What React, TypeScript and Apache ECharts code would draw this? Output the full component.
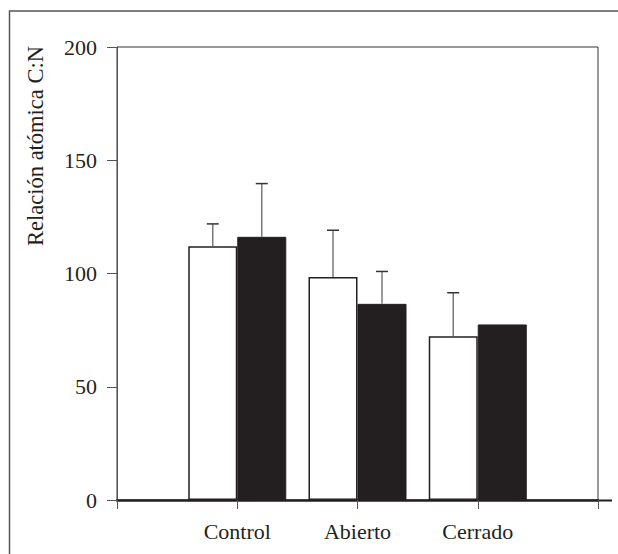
import React, { useEffect, useRef } from "react";
import * as echarts from "echarts";

const categories = ["", "Control", "Abierto", "Cerrado", ""];
const whiteValues = [null, 112, 98.4, 72.3, null];
const blackValues = [null, 116.2, 86.6, 77.5, null];
const whiteErrors = [null, 9.9, 20.7, 19.2, null];
const blackErrors = [null, 23.5, 14.3, null, null];
const yTicks = { min: 0, max: 200, interval: 50 };
const yTitle = "Relación atómica C:N";

const BAR_W = 49;
const FONT = "Liberation Serif, Times New Roman, serif";
const INK = "#231f20";

function errorData(vals: (number | null)[], errs: (number | null)[], side: number) {
  const out: any[] = [];
  vals.forEach((v, i) => {
    const e = errs[i];
    if (v != null && e != null && e > 0) out.push([i, v, e, side]);
  });
  return out;
}

export default function App() {
  const ref = useRef<HTMLDivElement>(null);
  useEffect(() => {
    if (!ref.current) return;
    const chart = echarts.init(ref.current, null, { renderer: "svg" });
    const renderErr = (params: any, api: any) => {
      const x = api.value(0);
      const v = api.value(1);
      const e = api.value(2);
      const side = api.value(3);
      const base = api.coord([x, v]);
      const top = api.coord([x, v + e]);
      const cx = base[0] + side * (BAR_W / 2);
      return {
        type: "group",
        children: [
          {
            type: "line",
            shape: { x1: cx, y1: base[1], x2: cx, y2: top[1] },
            style: { stroke: "#7a7a7a", lineWidth: 1.5 },
          },
          {
            type: "line",
            shape: { x1: cx - 6, y1: top[1], x2: cx + 6, y2: top[1] },
            style: { stroke: "#333", lineWidth: 1.5 },
          },
        ],
      };
    };
    chart.setOption({
      animation: false,
      backgroundColor: "#fff",
      textStyle: { fontFamily: FONT },
      grid: {
        left: 117,
        right: 20,
        top: 47,
        bottom: 54,
        show: true,
        borderColor: "#333",
        borderWidth: 1,
      },
      xAxis: {
        type: "category",
        data: categories,
        boundaryGap: false,
        axisLine: { show: true, lineStyle: { color: INK, width: 2.5 } },
        axisTick: { show: true, length: 9, lineStyle: { color: "#555", width: 1 } },
        axisLabel: { color: INK, fontFamily: FONT, fontSize: 22, margin: 20 },
        splitLine: { show: false },
      },
      yAxis: {
        type: "value",
        min: yTicks.min,
        max: yTicks.max,
        interval: yTicks.interval,
        axisLine: { show: true, lineStyle: { color: "#555", width: 1 } },
        axisTick: { show: true, length: 10, lineStyle: { color: "#555", width: 1 } },
        axisLabel: { color: INK, fontFamily: FONT, fontSize: 22, margin: 20 },
        splitLine: { show: false },
      },
      series: [
        {
          type: "bar",
          data: whiteValues.map((v) => (v == null ? "-" : v)),
          barWidth: BAR_W,
          barGap: "0%",
          itemStyle: { color: "#fff", borderColor: INK, borderWidth: 1.5 },
          z: 2,
        },
        {
          type: "bar",
          data: blackValues.map((v) => (v == null ? "-" : v)),
          barWidth: BAR_W,
          barGap: "0%",
          itemStyle: { color: INK, borderColor: INK, borderWidth: 1 },
          z: 2,
        },
        {
          type: "custom",
          renderItem: renderErr,
          data: errorData(whiteValues, whiteErrors, -1),
          encode: { x: 0, y: 1 },
          z: 3,
        },
        {
          type: "custom",
          renderItem: renderErr,
          data: errorData(blackValues, blackErrors, 1),
          encode: { x: 0, y: 1 },
          z: 3,
        },
      ],
      graphic: [
        {
          type: "rect",
          shape: { x: 9.5, y: 11, width: 700, height: 700 },
          style: { fill: "none", stroke: "#555", lineWidth: 1.5 },
          silent: true,
        },
        {
          type: "line",
          shape: { x1: 597, y1: 500.5, x2: 612, y2: 500.5 },
          style: { stroke: INK, lineWidth: 2 },
          silent: true,
        },
        {
          type: "text",
          x: 35,
          y: 146,
          rotation: Math.PI / 2,
          style: {
            text: yTitle,
            fill: INK,
            font: "22.5px Liberation Serif, Times New Roman, serif",
            align: "center",
            verticalAlign: "middle",
          },
          silent: true,
        },
      ],
    });
    return () => chart.dispose();
  }, []);
  return (
    <div
      ref={ref}
      style={{ position: "fixed", left: 0, top: 0, width: 618, height: 554 }}
    />
  );
}
